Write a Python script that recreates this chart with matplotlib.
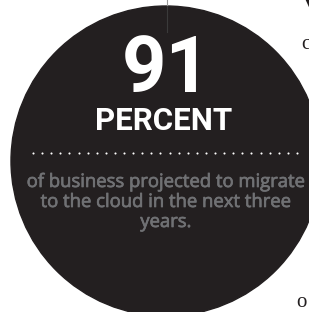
import numpy as np
import matplotlib
matplotlib.use('Agg')
import matplotlib.pyplot as plt
import matplotlib.patheffects as pe
from matplotlib.patches import Circle

# Stat shown in the bubble
big_number = '91'
unit_label = 'PERCENT'
caption_lines = ['of business projected to migrate',
                 'to the cloud in the next three',
                 'years.']
# cut-off article letters at the right edge
edge_letters = ['V', 'c', 'o']

W, H = 309, 312

fig = plt.figure(figsize=(W / 100, H / 100), dpi=100)
ax = fig.add_axes([0, 0, 1, 1])
ax.set_xlim(0, W)
ax.set_ylim(H, 0)
ax.axis('off')

# Dark bubble
ax.add_patch(Circle((166, 161), 155, color='#231f20', zorder=1))

# Thin rule running into the top of the bubble
ax.plot([167, 167], [0, 6], color='#9a9a9a', lw=0.8, zorder=2)
ax.plot([167, 167], [6, 32], color='#3a3a3a', lw=0.8, zorder=2)

# Big number and unit
ax.text(166, 92, big_number, color='white', fontsize=56, fontweight='bold',
        family='Roboto', ha='center', va='baseline', zorder=3)
ax.text(164, 130, unit_label, color='white', fontsize=22.5, fontweight='bold',
        family='Roboto', ha='center', va='baseline', zorder=3)

# Dotted separator
dot_x = np.linspace(33, 297, 30)
ax.plot(dot_x, np.full_like(dot_x, 152.5), 'o', color='white', ms=1.5,
        mew=0, zorder=3)

# Caption
thick = [pe.withStroke(linewidth=0.5, foreground='#707174')]
for i, line in enumerate(caption_lines):
    ax.text(166, 187 + 20 * i, line, color='#707174', fontsize=13.3,
            family='Open Sans', ha='center', va='baseline', zorder=3,
            path_effects=thick)

# Clipped article text on the right
ax.text(302, 8, edge_letters[0], color='#231f20', fontsize=16, fontweight='bold',
        family='Liberation Serif', ha='left', va='baseline', zorder=3)
ax.text(301, 49, edge_letters[1], color='#231f20', fontsize=15,
        family='Liberation Serif', ha='left', va='baseline', zorder=3)
ax.text(296, 307, edge_letters[2], color='#231f20', fontsize=15,
        family='Liberation Serif', ha='left', va='baseline', zorder=3)

fig.savefig('out.png', dpi=100)
